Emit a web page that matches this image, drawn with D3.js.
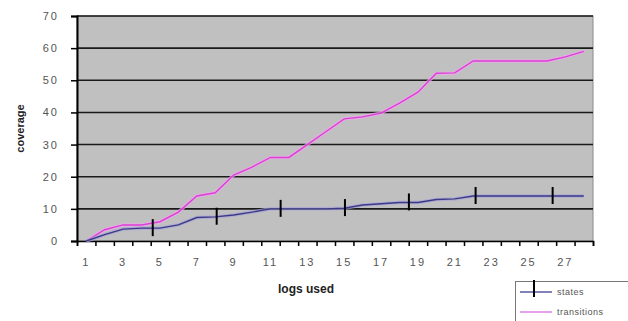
<!DOCTYPE html>
<html>
<head>
<meta charset="utf-8">
<script src="https://cdn.jsdelivr.net/npm/d3@7"></script>
<style>
  body { margin: 0; background: #fff; }
  svg { display: block; font-family: "Liberation Sans", Arial, sans-serif; }
</style>
</head>
<body>
<svg id="chart" width="628" height="321"></svg>
<script>
// logs used (category axis 1..28)
var logs = d3.range(1, 29);
var states = [0, 2, 3.7, 4, 4, 5, 7.3, 7.5, 8.1, 9, 10, 10, 10, 10, 10.2, 11.2, 11.6, 12, 12, 12.9, 13.1, 14, 14, 14, 14, 14, 14, 14];
var transitions = [0, 3.5, 5, 5, 6, 9, 14, 15, 20.5, 23, 26, 26, 30, 34, 38, 38.6, 39.8, 42.9, 46.3, 52.2, 52.3, 56, 56, 56, 56, 56, 57.3, 59];
// where the "states" markers sit along the x axis
var stateMarkers = [4.61, 8.08, 11.55, 15.04, 18.51, 22.13, 26.31];
var yTicks = [0, 10, 20, 30, 40, 50, 60, 70];
var xLabels = [1, 3, 5, 7, 9, 11, 13, 15, 17, 19, 21, 23, 25, 27];

var svg = d3.select('#chart');
var plotLeft = 77, plotRight = 593, plotTop = 16, plotBottom = 241;

var x = d3.scaleLinear().domain([0.5, 28.5]).range([plotLeft, plotRight]);
var y = d3.scaleLinear().domain([0, 70]).range([plotBottom, plotTop]);

// plot area
svg.append('rect')
  .attr('x', plotLeft).attr('y', plotTop)
  .attr('width', plotRight - plotLeft).attr('height', plotBottom - plotTop)
  .style('fill', '#c0c0c0')
  .style('stroke', '#8a8a8a').style('stroke-width', 1);

// gridlines
svg.selectAll('.grid').data(yTicks.slice(1))
  .enter().append('line')
  .attr('class', 'grid')
  .attr('x1', plotLeft).attr('x2', plotRight)
  .attr('y1', function(d) { return y(d); })
  .attr('y2', function(d) { return y(d); })
  .style('stroke', '#1a1a1a').style('stroke-width', 1.6);

// y axis
var yAxis = d3.axisLeft(y).tickValues(yTicks).tickSize(6).tickPadding(12)
  .tickFormat(function(d) { return d; });
var yg = svg.append('g').attr('transform', 'translate(' + plotLeft + ',0)').call(yAxis);
yg.select('.domain').style('stroke', '#000').style('stroke-width', 2);
yg.selectAll('.tick line').style('stroke', '#000').style('stroke-width', 1.5);
yg.selectAll('.tick text')
  .style('font-size', '11px').style('fill', '#555').style('letter-spacing', '2px');

// x axis, ticks between categories
var xAxis = d3.axisBottom(x).tickValues(d3.range(0.5, 29, 1)).tickSize(5).tickFormat('');
var xg = svg.append('g').attr('transform', 'translate(0,' + plotBottom + ')').call(xAxis);
xg.select('.domain').style('stroke', '#000').style('stroke-width', 1.6);
xg.selectAll('.tick line').style('stroke', '#000').style('stroke-width', 1.5);

svg.selectAll('.xlabel').data(xLabels)
  .enter().append('text')
  .attr('class', 'xlabel')
  .attr('x', function(d) { return x(d); })
  .attr('y', 266)
  .attr('text-anchor', 'middle')
  .style('font-size', '11px').style('fill', '#555').style('letter-spacing', '2px')
  .text(function(d) { return d; });

// axis titles
svg.append('text')
  .attr('x', 306).attr('y', 293)
  .attr('text-anchor', 'middle')
  .style('font-size', '12px').style('font-weight', 'bold').style('fill', '#222')
  .text('logs used');

svg.append('text')
  .attr('transform', 'translate(24,' + ((plotTop + plotBottom) / 2) + ') rotate(-90)')
  .attr('text-anchor', 'middle')
  .style('font-size', '11px').style('font-weight', 'bold').style('fill', '#222')
  .text('coverage');

// lines
var line = d3.line()
  .x(function(d, i) { return x(logs[i]); })
  .y(function(d) { return y(d); });

function drawSeries(values, halo, core) {
  svg.append('path').datum(values)
    .attr('d', line)
    .style('fill', 'none').style('stroke', halo).style('stroke-width', 3.5).style('opacity', 0.7);
  svg.append('path').datum(values)
    .attr('d', line)
    .style('fill', 'none').style('stroke', core).style('stroke-width', 1.4);
}
drawSeries(transitions, '#f2a6f0', '#dc3fd6');
drawSeries(states, '#a8a2d8', '#3b3a86');

// state markers
var stateAt = d3.scaleLinear().domain(logs).range(states);
svg.selectAll('.marker').data(stateMarkers)
  .enter().append('line')
  .attr('class', 'marker')
  .attr('x1', function(d) { return x(d); })
  .attr('x2', function(d) { return x(d); })
  .attr('y1', function(d) { return y(stateAt(d)) - 9; })
  .attr('y2', function(d) { return y(stateAt(d)) + 8; })
  .style('stroke', '#000').style('stroke-width', 2);

// legend
var lg = svg.append('g');
lg.append('rect')
  .attr('x', 515.5).attr('y', 281.5).attr('width', 130).attr('height', 60)
  .style('fill', '#fff').style('stroke', '#777').style('stroke-width', 1);

lg.append('line').attr('x1', 520).attr('x2', 552).attr('y1', 292).attr('y2', 292)
  .style('stroke', '#5a58a0').style('stroke-width', 1.5);
lg.append('line').attr('x1', 534).attr('x2', 534).attr('y1', 280).attr('y2', 297)
  .style('stroke', '#000').style('stroke-width', 2);
lg.append('text').attr('x', 557).attr('y', 295)
  .style('font-size', '9px').style('fill', '#555').style('letter-spacing', '0.5px')
  .text('states');

lg.append('line').attr('x1', 520).attr('x2', 552).attr('y1', 312).attr('y2', 312)
  .style('stroke', '#e080e0').style('stroke-width', 1.5);
lg.append('text').attr('x', 557).attr('y', 315)
  .style('font-size', '9px').style('fill', '#555').style('letter-spacing', '0.5px')
  .text('transitions');
</script>
</body>
</html>
